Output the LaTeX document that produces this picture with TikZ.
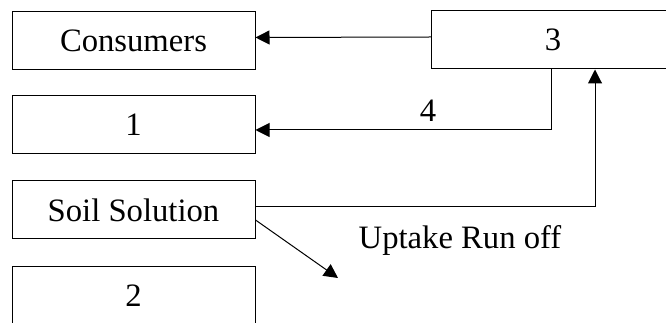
\documentclass[tikz,border=0pt]{standalone}
\usepackage{fontspec}
\setmainfont{Liberation Serif}
\usetikzlibrary{arrows.meta}

\tikzset{every picture/.style={line width=0.75pt}}
\tikzset{
  poolbox/.style={draw, minimum width=182.25pt, minimum height=43.5pt, inner sep=0pt, font=\fontsize{24.5}{29}\selectfont},
  flowlabel/.style={inner sep=0.75pt, font=\fontsize{24.5}{29}\selectfont},
  flow/.style={-{Triangle[length=10.5pt,width=10.5pt]}}
}

\begin{document}
\begin{tikzpicture}[x=0.75pt,y=0.75pt,yscale=-1,xscale=1]
		\useasboundingbox (0,0) rectangle (666,323);
		\clip (0,0) rectangle (666,323);

		%Shape: Rectangle [id:consumers]
		\node [poolbox] (cons) at (133.5,40.5) {Consumers};
		%Shape: Rectangle [id:one]
		\node [poolbox] (one) at (133.5,125) {1};
		%Shape: Rectangle [id:soil]
		\node [poolbox] (soil) at (133.5,210) {Soil Solution};
		%Shape: Rectangle [id:two]
		\node [poolbox] (two) at (133.5,296) {2};
		%Shape: Rectangle [id:three] (runs past the right edge)
		\node [poolbox, anchor=west, text width=240pt, align=left] (three) at (431,40) {\makebox[182.25pt]{3}};
		\coordinate (runoff) at (338,278);

		%Straight Lines
		\draw [flow] ([yshift=-2.25pt]three.west) -- ([yshift=-2.25pt]cons.east);
		%Straight Lines
		\draw [flow] ([xshift=90pt]three.south west) |- ([yshift=3.75pt]one.east);
		%Straight Lines
		\draw [flow] ([yshift=-2.25pt]soil.east) -| ([xshift=123pt]three.south west);
		%Straight Lines
		\draw [flow] ([yshift=7.5pt]soil.east) -- (runoff);

		% Text Node
		\node [flowlabel] (lbl4) at (428,110.5) {4};
		% Text Node
		\node [flowlabel] (lblup) at (460,240) {Uptake Run off};
\end{tikzpicture}
\end{document}
